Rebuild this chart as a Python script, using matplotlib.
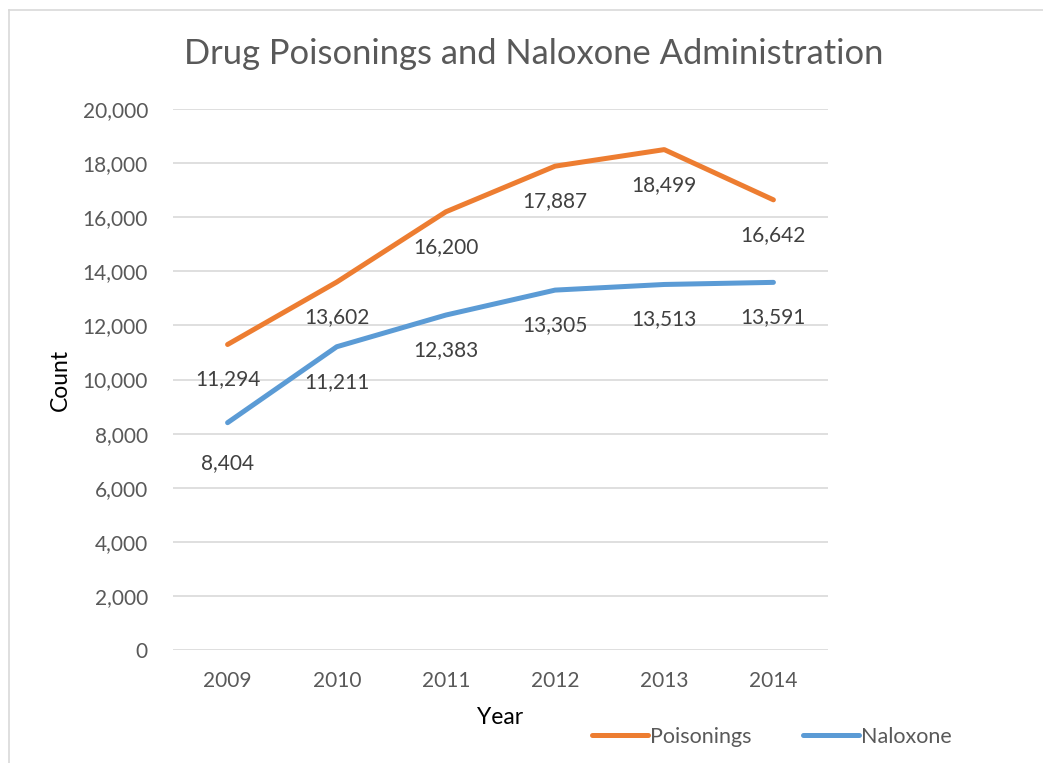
import matplotlib
matplotlib.use("Agg")
import matplotlib.pyplot as plt
from matplotlib.lines import Line2D

years = ["2009", "2010", "2011", "2012", "2013", "2014"]
poisonings = [11294, 13602, 16200, 17887, 18499, 16642]
naloxone = [8404, 11211, 12383, 13305, 13513, 13591]

ORANGE = "#ED7D31"
BLUE = "#5B9BD5"
TEXT = "#595959"
GRID = "#D9D9D9"

plt.rcParams["font.family"] = ["Lato", "DejaVu Sans"]

W, H = 1043, 763
fig = plt.figure(figsize=(W / 100, H / 100), dpi=100)
ax = fig.add_axes([173 / W, 1 - 650 / H, (828 - 173) / W, (650 - 109) / H])

x = list(range(len(years)))
ax.plot(x, poisonings, color=ORANGE, lw=3.6, solid_capstyle="round", label="Poisonings")
ax.plot(x, naloxone, color=BLUE, lw=3.6, solid_capstyle="round", label="Naloxone")

# data labels sit below the points
extra_drop = {("n", 0): 5}
for key, series in (("p", poisonings), ("n", naloxone)):
    for i, v in enumerate(series):
        drop = 35 + extra_drop.get((key, i), 0)
        ax.annotate(f"{v:,}", (i, v), xytext=(0, -drop * 0.72), textcoords="offset points",
                    ha="center", va="center", fontsize=15, color="#404040")

ax.set_xlim(-0.5, len(years) - 0.5)
ax.set_ylim(0, 20000)
ax.set_yticks(range(0, 20001, 2000))
ax.yaxis.set_major_formatter(matplotlib.ticker.FuncFormatter(lambda v, _: f"{int(v):,}"))
ax.set_xticks(x)
ax.set_xticklabels(years)
ax.grid(True, axis="y", color=GRID, lw=1.2)
ax.set_axisbelow(True)
for s in ax.spines.values():
    s.set_visible(False)
ax.tick_params(length=0, labelsize=15, colors=TEXT)
ax.tick_params(axis="y", pad=18)
ax.tick_params(axis="x", pad=15)

fig.text(60 / W, 1 - 380 / H, "Count", rotation=90, ha="center", va="center", fontsize=16.5, color="black")
fig.text(500 / W, 1 - 718 / H, "Year", ha="center", va="center", fontsize=16.5, color="black")
fig.text(534 / W, 1 - 54 / H, "Drug Poisonings and Naloxone Administration", ha="center", va="center",
         fontsize=24.8, color=TEXT)

handles = [Line2D([], [], color=ORANGE, lw=3.6, solid_capstyle="round"),
           Line2D([], [], color=BLUE, lw=3.6, solid_capstyle="round")]
fig.legend(handles, ["Poisonings", "Naloxone"], loc="center", bbox_to_anchor=(772 / W, 1 - 737 / H),
           ncol=2, frameon=False, fontsize=15.5, labelcolor=TEXT, handlelength=2.6,
           handletextpad=0.1, columnspacing=2.4)

# chart border (top and left edges visible in the crop)
fig.add_artist(Line2D([9 / W, 1], [1 - 10 / H, 1 - 10 / H], color=GRID, lw=1.2, transform=fig.transFigure))
fig.add_artist(Line2D([9 / W, 9 / W], [1 - 10 / H, 0], color=GRID, lw=1.2, transform=fig.transFigure))

fig.savefig("out.png", dpi=100)
